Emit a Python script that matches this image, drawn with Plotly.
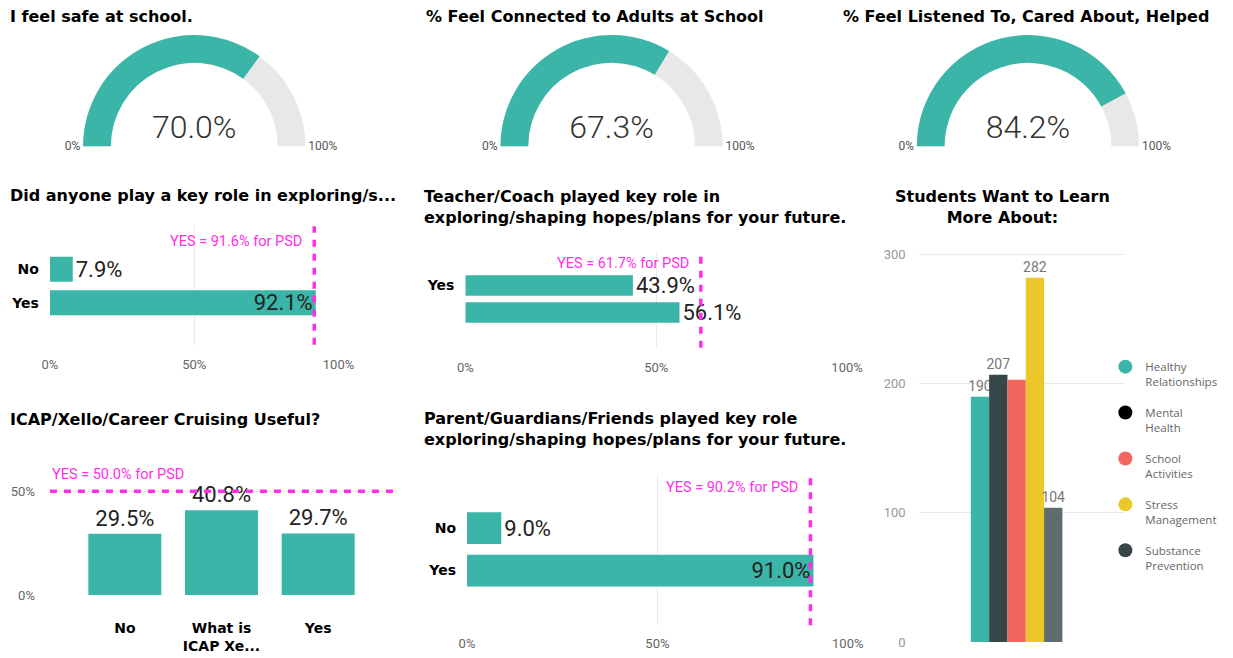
import plotly.graph_objects as go

# ---------------- data ----------------
gauge_titles = ["I feel safe at school.",
                "% Feel Connected to Adults at School",
                "% Feel Listened To, Cared About, Helped"]
gauge_values = [70.0, 67.3, 84.2]

anyone_title = "Did anyone play a key role in exploring/s..."
anyone_cats = ["No", "Yes"]
anyone_vals = [0.079, 0.921]
anyone_psd = 0.916

teacher_title = "Teacher/Coach played key role in<br>exploring/shaping hopes/plans for your future."
teacher_cats = ["Yes", " "]
teacher_vals = [0.439, 0.561]
teacher_psd = 0.617

parent_title = "Parent/Guardians/Friends played key role<br>exploring/shaping hopes/plans for your future."
parent_cats = ["No", "Yes"]
parent_vals = [0.090, 0.910]
parent_psd = 0.902

icap_title = "ICAP/Xello/Career Cruising Useful?"
icap_cats = ["No", "What is<br>ICAP Xe...", "Yes"]
icap_vals = [0.295, 0.408, 0.297]
icap_psd = 0.500

learn_title = "Students Want to Learn<br>More About:"
learn_topics = ["Healthy<br>Relationships", "Mental<br>Health", "School<br>Activities",
                "Stress<br>Management", "Substance<br>Prevention"]
learn_counts = [190, 207, 203, 282, 104]
learn_show_label = [True, True, False, True, True]
learn_bar_colors = ["#3AB5A7", "#374649", "#F2665F", "#EBC72A", "#5F6B6D"]
learn_legend_colors = ["#3AB5A7", "#000000", "#F2665F", "#EBC72A", "#374649"]

# ---------------- styling ----------------
W, H = 1233, 658
# measured placement of the drawn figure inside the photographed window
X0, XSPAN = 8.0, 1210.8
TEAL = "#3AB5A7"
MAGENTA = "#FF2EE8"
GRID = "#EAEAEA"
TITLE_FONT = dict(family="DejaVu Sans", size=16, color="#000000", weight="bold")
CAT_FONT = dict(family="DejaVu Sans", size=14, color="#000000", weight="bold")
TICK_FONT = dict(family="Roboto", size=13, color="#666666")
LABEL_FONT = dict(family="Roboto", size=22, color="#222222")
PSD_FONT = dict(family="Roboto", size=14.5, color=MAGENTA)


def fx(p):
    """window pixel x -> paper fraction"""
    return (p - X0) / XSPAN


def fy(p):
    """window pixel y -> paper fraction"""
    return 1 - p / H


fig = go.Figure()

# ---------------- gauges ----------------
gauge_cx = [194.5, 612.5, 1029.5]
g_r = 112.5
g_top, g_bot = 35.5, 148
for cx, val in zip(gauge_cx, gauge_values):
    fig.add_trace(go.Indicator(
        mode="gauge+number",
        value=val,
        number=dict(suffix="%", valueformat=".1f",
                    font=dict(family="Roboto", size=32, color="#333333", weight=300)),
        gauge=dict(
            shape="angular",
            axis=dict(range=[0, 100], tickvals=[0, 100], ticktext=["0%", "100%"],
                      ticks="", tickfont=dict(family="Roboto", size=12, color="#555555")),
            bar=dict(color=TEAL, thickness=1, line=dict(width=0)),
            bgcolor="#E8E8E8",
            borderwidth=0,
        ),
        domain=dict(x=[fx(cx - g_r), fx(cx + g_r)], y=[fy(g_bot), fy(g_top)]),
    ))

annotations = []
for cx_left, t in zip([8, 425, 842.5], gauge_titles):
    annotations.append(dict(text=t, x=fx(cx_left), y=fy(17), xref="paper", yref="paper",
                            xanchor="left", yanchor="middle", showarrow=False, font=TITLE_FONT))

shapes = []


# ---------------- horizontal bar charts ----------------
def hbar(ax_id, cats, vals, psd, positions, xdom, ydom, yrange, width, ann_y, standoff):
    xa = "x" + ("" if ax_id == 1 else str(ax_id))
    ya = "y" + ("" if ax_id == 1 else str(ax_id))
    fig.add_trace(go.Bar(
        orientation="h", y=cats, x=vals, xaxis=xa, yaxis=ya,
        marker=dict(color=TEAL, line=dict(width=0)), width=width,
        text=[f"{v:.1%}" for v in vals], textposition=positions,
        textfont=LABEL_FONT, insidetextfont=LABEL_FONT, outsidetextfont=LABEL_FONT,
        constraintext="none", cliponaxis=False, showlegend=False, hoverinfo="skip",
    ))
    xkey = "xaxis" + ("" if ax_id == 1 else str(ax_id))
    ykey = "yaxis" + ("" if ax_id == 1 else str(ax_id))
    fig.layout[xkey] = dict(domain=[fx(xdom[0]), fx(xdom[1])], range=[0, 1], anchor=ya,
                            tickvals=[0, 0.5, 1], tickformat=".0%", showgrid=True,
                            gridcolor=GRID, gridwidth=1, zeroline=False, showline=False,
                            tickfont=TICK_FONT, ticklabelstandoff=standoff, fixedrange=True)
    fig.layout[ykey] = dict(domain=[fy(ydom[1]), fy(ydom[0])], type="category",
                            categoryorder="array", categoryarray=cats, range=yrange,
                            anchor=xa, showgrid=False, zeroline=False, tickfont=CAT_FONT,
                            ticklabelstandoff=10, fixedrange=True)
    shapes.append(dict(type="line", xref=xa, yref=ya + " domain", x0=psd, x1=psd, y0=0, y1=1,
                       line=dict(color=MAGENTA, width=3.5, dash="7px,7px"), layer="above"))
    annotations.append(dict(text=f"YES = {psd:.1%} for PSD", x=psd, xref=xa, y=fy(ann_y),
                            yref="paper", xanchor="right", yanchor="middle", xshift=-10,
                            showarrow=False, font=PSD_FONT))


hbar(1, anyone_cats, anyone_vals, anyone_psd, ["outside", "inside"],
     (50, 339), (229, 349), [2.25, -1.28], 0.74, 244, 10)
hbar(2, teacher_cats, teacher_vals, teacher_psd, ["outside", "outside"],
     (466, 848.3), (253.7, 352), [2.31, -1.29], 0.76, 267, 10)
hbar(3, parent_cats, parent_vals, parent_psd, ["outside", "inside"],
     (467.7, 849), (479.7, 633), [2.29, -1.28], 0.75, 493, 9)

annotations.append(dict(text=anyone_title, x=fx(8), y=fy(198), xref="paper", yref="paper",
                        xanchor="left", yanchor="middle", showarrow=False, font=TITLE_FONT))
annotations.append(dict(text=teacher_title, x=fx(423), y=fy(209.5), xref="paper", yref="paper",
                        xanchor="left", yanchor="middle", align="left", showarrow=False,
                        font=TITLE_FONT))
annotations.append(dict(text=parent_title, x=fx(423), y=fy(434.7), xref="paper", yref="paper",
                        xanchor="left", yanchor="middle", align="left", showarrow=False,
                        font=TITLE_FONT))

# ---------------- ICAP column chart ----------------
fig.add_trace(go.Bar(
    x=icap_cats, y=icap_vals, xaxis="x4", yaxis="y4",
    marker=dict(color=TEAL, line=dict(width=0)), width=0.755,
    text=[f"{v:.1%}" for v in icap_vals], textposition="outside",
    textfont=LABEL_FONT, outsidetextfont=LABEL_FONT, constraintext="none",
    cliponaxis=False, showlegend=False, hoverinfo="skip",
))
fig.layout["xaxis4"] = dict(domain=[fx(50), fx(398)], type="category", categoryorder="array",
                            categoryarray=icap_cats, range=[-0.775, 2.82], anchor="y4",
                            showgrid=False, zeroline=False, tickfont=CAT_FONT,
                            ticklabelstandoff=23, fixedrange=True)
fig.layout["yaxis4"] = dict(domain=[fy(602.3), fy(440)], range=[0, 0.773], anchor="x4",
                            tickvals=[0, 0.5], tickformat=".0%", showgrid=True, gridcolor=GRID,
                            zeroline=False, tickfont=TICK_FONT, ticklabelstandoff=14,
                            fixedrange=True)
shapes.append(dict(type="line", xref="x4 domain", yref="y4", x0=0, x1=1, y0=icap_psd, y1=icap_psd,
                   line=dict(color=MAGENTA, width=3.5, dash="7px,7px"), layer="above"))
annotations.append(dict(text=f"YES = {icap_psd:.1%} for PSD", x=0, xref="x4 domain", y=icap_psd,
                        yref="y4", xanchor="left", yanchor="bottom", yshift=6, showarrow=False,
                        font=PSD_FONT))
annotations.append(dict(text=icap_title, x=fx(8), y=fy(425), xref="paper", yref="paper",
                        xanchor="left", yanchor="middle", showarrow=False, font=TITLE_FONT))

# ---------------- Students want to learn ----------------
for i, (topic, cnt, show, bc) in enumerate(zip(learn_topics, learn_counts, learn_show_label,
                                               learn_bar_colors)):
    fig.add_trace(go.Bar(
        x=["topics"], y=[cnt], xaxis="x5", yaxis="y5", name=topic,
        marker=dict(color=bc, line=dict(width=0)),
        text=[str(cnt) if show else ""], textposition="outside",
        textfont=dict(family="Roboto", size=14, color="#777777"),
        constraintext="none", cliponaxis=False, showlegend=False, hoverinfo="skip",
    ))
for i, (topic, lc) in enumerate(zip(learn_topics, learn_legend_colors)):
    fig.add_trace(go.Scatter(
        x=[None], y=[None], xaxis="x5", yaxis="y5", mode="markers", name=topic,
        marker=dict(color=lc, size=14, symbol="circle"), legendgroup=f"g{i}",
        showlegend=True, hoverinfo="skip",
    ))
fig.layout["xaxis5"] = dict(domain=[fx(920), fx(1127)], type="category", range=[-0.474, 0.526],
                            anchor="y5", showticklabels=False, showgrid=False, zeroline=False,
                            fixedrange=True)
fig.layout["yaxis5"] = dict(domain=[fy(650), fy(240)], range=[0, 313.5], anchor="x5",
                            tickvals=[0, 100, 200, 300], showgrid=True, gridcolor=GRID,
                            zeroline=False, tickfont=dict(family="Roboto", size=13, color="#999999"),
                            ticklabelstandoff=12, fixedrange=True)
annotations.append(dict(text=learn_title, x=fx(1004.3), y=fy(209.5), xref="paper", yref="paper",
                        xanchor="center", yanchor="middle", align="center", showarrow=False,
                        font=TITLE_FONT))

fig.update_layout(
    width=W, height=H, autosize=False,
    margin=dict(l=0, r=0, t=0, b=0),
    paper_bgcolor="#FFFFFF", plot_bgcolor="#FFFFFF",
    font=dict(family="Roboto", color="#333333"),
    barmode="group", bargap=0.557, bargroupgap=0,
    showlegend=True,
    legend=dict(x=fx(1107), y=fy(357), xanchor="left", yanchor="top",
                font=dict(family="Open Sans", size=11.5, color="#666666"),
                traceorder="grouped", tracegroupgap=13, valign="top",
                bgcolor="rgba(0,0,0,0)", itemclick=False, itemdoubleclick=False),
    annotations=annotations,
    shapes=shapes,
)

fig.write_html("out.html", config=dict(displayModeBar=False),
               post_script="document.body.style.margin='0';document.body.style.overflow='hidden';")
